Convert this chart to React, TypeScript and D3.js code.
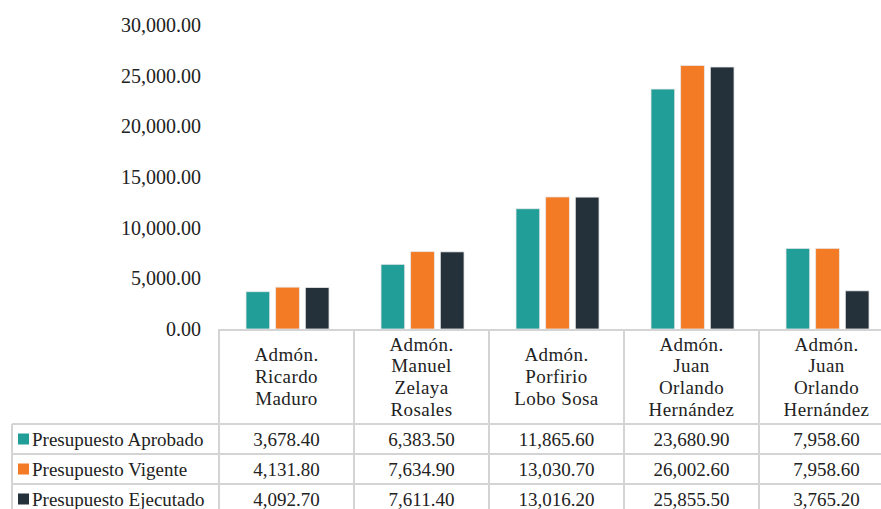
import { useEffect, useRef } from 'react';
import * as d3 from 'd3';

const categories = [
  ['Admón.', 'Ricardo', 'Maduro'],
  ['Admón.', 'Manuel', 'Zelaya', 'Rosales'],
  ['Admón.', 'Porfirio', 'Lobo Sosa'],
  ['Admón.', 'Juan', 'Orlando', 'Hernández'],
  ['Admón.', 'Juan', 'Orlando', 'Hernández'],
];

const seriesNames = ['Presupuesto Aprobado', 'Presupuesto Vigente', 'Presupuesto Ejecutado'];
const seriesColors = ['#229e99', '#f47b25', '#25313a'];

const aprobado = [3678.4, 6383.5, 11865.6, 23680.9, 7958.6];
const vigente = [4131.8, 7634.9, 13030.7, 26002.6, 7958.6];
const ejecutado = [4092.7, 7611.4, 13016.2, 25855.5, 3765.2];

const yTicks = [0, 5000, 10000, 15000, 20000, 25000, 30000];

const W = 881;
const H = 509;

export default function App() {
  const svgRef = useRef<SVGSVGElement>(null);

  useEffect(() => {
    if (!svgRef.current) return;
    const svg = d3.select(svgRef.current);
    svg.selectAll('*').remove();

    const font = '"Liberation Serif", "Times New Roman", serif';
    const values = [aprobado, vigente, ejecutado];
    const keys = categories.map((_, i) => `c${i}`);

    const tableLeft = 219;
    const colW = 135;
    const baseY = 329;
    const topY = 25;
    const headerBottom = 424;
    const rowH = 30;
    const legendLeft = 12;
    const lineColor = '#d4d4d4';

    const x0 = d3
      .scaleBand()
      .domain(keys)
      .range([tableLeft, tableLeft + colW * keys.length]);

    const x1 = d3
      .scaleBand()
      .domain(seriesNames)
      .range([x0.bandwidth() * 0.2, x0.bandwidth() * 0.815])
      .paddingInner(0.2);

    const y = d3.scaleLinear().domain([0, 30000]).range([baseY, topY]);

    const fmt = d3.format(',.2f');

    // Y axis labels
    svg
      .append('g')
      .selectAll('text')
      .data(yTicks)
      .enter()
      .append('text')
      .attr('x', 201)
      .attr('y', (d) => y(d))
      .attr('dy', '0.35em')
      .attr('text-anchor', 'end')
      .attr('font-family', font)
      .attr('font-size', '20px')
      .attr('fill', '#222')
      .text((d) => fmt(d));

    // Bars
    const groups = svg
      .append('g')
      .selectAll('g')
      .data(keys)
      .enter()
      .append('g')
      .attr('transform', (d) => `translate(${x0(d)},0)`);

    groups
      .selectAll('rect')
      .data((_, i) => seriesNames.map((s, si) => ({ s, si, v: values[si][i] })))
      .enter()
      .append('rect')
      .attr('x', (d) => x1(d.s) || 0)
      .attr('y', (d) => y(d.v))
      .attr('width', x1.bandwidth())
      .attr('height', (d) => baseY - y(d.v))
      .attr('fill', (d) => seriesColors[d.si])
      .attr('stroke', '#e8e8e8')
      .attr('stroke-width', 0.8);

    // Table grid
    const grid = svg.append('g').attr('stroke', lineColor).attr('stroke-width', 2);
    const right = tableLeft + colW * keys.length;
    grid.append('line').attr('x1', tableLeft).attr('x2', right).attr('y1', baseY + 1).attr('y2', baseY + 1);
    for (let r = 0; r <= seriesNames.length; r++) {
      const yy = headerBottom + r * rowH;
      grid.append('line').attr('x1', legendLeft).attr('x2', right).attr('y1', yy).attr('y2', yy);
    }
    keys.forEach((k) => {
      grid
        .append('line')
        .attr('x1', x0(k) || 0)
        .attr('x2', x0(k) || 0)
        .attr('y1', baseY)
        .attr('y2', H + 10);
    });
    grid.append('line').attr('x1', legendLeft).attr('x2', legendLeft).attr('y1', headerBottom).attr('y2', H + 10);

    // Header labels
    const lineGap = 21.7;
    const headerMid = (baseY + headerBottom) / 2;
    keys.forEach((k, i) => {
      const lines = categories[i];
      const cx = (x0(k) || 0) + x0.bandwidth() / 2;
      const t = svg
        .append('text')
        .attr('text-anchor', 'middle')
        .attr('font-family', font)
        .attr('font-size', '19px')
        .attr('letter-spacing', '0.4px')
        .attr('fill', '#222');
      lines.forEach((ln, li) => {
        t.append('tspan')
          .attr('x', cx)
          .attr('y', headerMid + (li - (lines.length - 1) / 2) * lineGap)
          .attr('dy', '0.35em')
          .text(ln);
      });
    });

    // Legend column and values
    seriesNames.forEach((s, si) => {
      const cy = headerBottom + si * rowH + rowH / 2;
      svg
        .append('rect')
        .attr('x', 18)
        .attr('y', cy - 5.5)
        .attr('width', 11)
        .attr('height', 11)
        .attr('fill', seriesColors[si]);
      svg
        .append('text')
        .attr('x', 32)
        .attr('y', cy)
        .attr('dy', '0.35em')
        .attr('font-family', font)
        .attr('font-size', '19px')
        .attr('fill', '#222')
        .text(s);
      keys.forEach((k, ci) => {
        svg
          .append('text')
          .attr('x', (x0(k) || 0) + x0.bandwidth() / 2)
          .attr('y', cy)
          .attr('dy', '0.35em')
          .attr('text-anchor', 'middle')
          .attr('font-family', font)
          .attr('font-size', '19px')
          .attr('fill', '#222')
          .text(fmt(values[si][ci]));
      });
    });
  }, []);

  return (
    <svg
      ref={svgRef}
      width={W}
      height={H}
      style={{ position: 'absolute', left: 0, top: 0, background: '#fff' }}
    />
  );
}
